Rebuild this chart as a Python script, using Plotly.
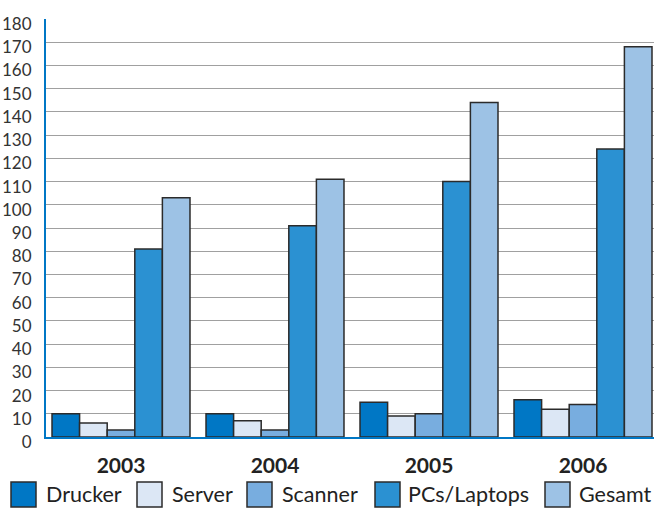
import plotly.graph_objects as go

years = ["2003", "2004", "2005", "2006"]
series = ["Drucker", "Server", "Scanner", "PCs/Laptops", "Gesamt"]
drucker = [10, 10, 15, 16]
server = [6, 7, 9, 12]
scanner = [3, 3, 10, 14]
pcs = [81, 91, 110, 124]
gesamt = [103, 111, 144, 168]
values = [drucker, server, scanner, pcs, gesamt]
colors = ["#0077c5", "#dce7f5", "#78addf", "#2b91d2", "#9dc2e5"]
yticks = list(range(0, 181, 10))

FONT = "Lato, Roboto, Arial, sans-serif"
W, H = 654, 510
ML, MR, MT, MB = 46, 0, 19, 73
PW, PH = W - ML - MR, H - MT - MB

fig = go.Figure()
for name, vals, col in zip(series, values, colors):
    fig.add_trace(go.Bar(
        x=years, y=vals, name=name, showlegend=False,
        marker=dict(color=col, line=dict(color="#2b2b2b", width=1.5)),
    ))

# custom legend (large square swatches)
sym_left = [11, 137, 247, 375, 545]
txt_left = [44, 170, 280, 406, 577]
sym_top, sym_size = 482, 25
def px2x(px):
    return (px - ML) / PW
def px2y(py):
    return (H - MB - py) / PH

for name, col, sl, tl in zip(series, colors, sym_left, txt_left):
    fig.add_shape(type="rect", xref="paper", yref="paper",
                  x0=px2x(sl), x1=px2x(sl + sym_size),
                  y0=px2y(sym_top + sym_size), y1=px2y(sym_top),
                  fillcolor=col, line=dict(color="#2b2b2b", width=1.5))
    fig.add_annotation(xref="paper", yref="paper", x=px2x(tl), y=px2y(sym_top + sym_size / 2),
                       text=name, showarrow=False, xanchor="left", yanchor="middle",
                       font=dict(family=FONT, size=21.5, color="#222222"))

# hide the grid line at the very top (reference has none there)
fig.add_shape(type="line", xref="paper", yref="y", x0=0.004, x1=1, y0=180, y1=180,
              line=dict(color="white", width=3), layer="above")

fig.update_layout(
    width=W, height=H,
    margin=dict(l=ML, r=MR, t=MT, b=MB),
    paper_bgcolor="white", plot_bgcolor="white",
    barmode="group", bargap=0.104, bargroupgap=0,
    font=dict(family=FONT, color="#333333"),
    xaxis=dict(
        range=[-0.487, 3.461],
        showline=True, linecolor="#0077c5", linewidth=2,
        showgrid=False, ticks="",
        tickfont=dict(family=FONT, size=21, color="#222222", weight="bold"),
        ticklabelstandoff=9,
    ),
    yaxis=dict(
        range=[0, 180], tickvals=yticks,
        showline=True, linecolor="#0077c5", linewidth=2,
        showgrid=True, gridcolor="#a0a0a0", gridwidth=1,
        zeroline=False, ticks="",
        tickfont=dict(family=FONT, size=17, color="#333333"),
        ticklabelstandoff=9, ticklabelshift=5,
    ),
)

fig.write_html("out.html")
